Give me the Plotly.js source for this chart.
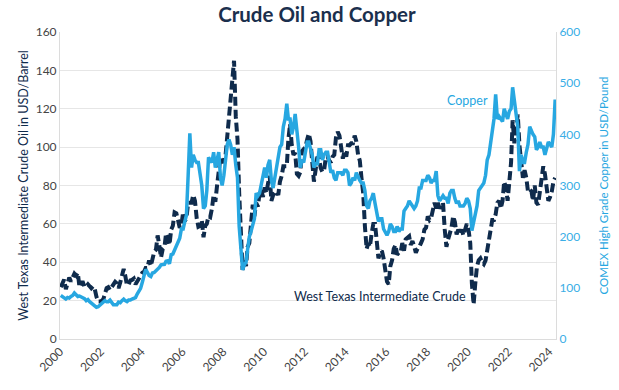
<!DOCTYPE html>
<html>
<head>
<meta charset="utf-8">
<script src="https://cdn.plot.ly/plotly-3.0.1.min.js"></script>
<style>
html,body{margin:0;padding:0;background:#fff;}
#chart{width:619px;height:390px;}
</style>
</head>
<body>
<div id="chart"></div>
<script>
// Monthly series, Jan 2000 .. Apr 2024
const startYear = 2000;
const wtiUSDperBarrel = [
 27,29.5,31,26,29,32,30,31.5,34,33,34.5,27,
 29.5,29.5,27,27.5,28.5,27.5,26.5,27.5,26,22,19.5,19.5,
 19.8,20.7,24.5,26.5,27,25.5,27,28.5,29.8,29,26.5,29.5,
 33,36.5,33,28,28.5,30.5,30.8,31.5,28.5,30,31,32.5,
 34.5,35,37,37,41,38,41,45.5,46.5,54,48.5,42.5,
 47,48,55,52.5,49,57,59,66,65.5,62,58,59.5,
 66,61.5,63,71,71,71,75,72,63,58.5,59,62,
 53,59,60,64,63.5,68,75,71.5,80,87,95,92,
 93,96,106,114,127,136,145,116,104,76,55,36,
 41,38,48,50,60,70,64,71,69,76,78,74,
 79,76,81,85,72,75,76,77,75,82,85,90,
 90,90,104,112,101,96,97,86,85,87,98,99,
 100,104,107,103,94,82,88,95,94,89,87,88,
 95,95,93,92,95,96,105,108,106,100,94,98,
 95,101,101,102,102,106,103,96,93,84,76,59,
 47,50,48,55,60,60,51,42,45,46,42,37,
 30,28.5,38,41,47,49,44,45,45,50,46,52,
 52.5,53.5,49,51,48.5,45,47,48,50,52,57,58,
 64,62,63,67,71,68,71,68,70,71,57,48,
 52,55,58,64,61,54.5,57,55,57,54,57,60,
 57,50,29,18,29,38,41,42,40,39,41,47,
 52,59,62,62,65,71,72,68,72,82,79,72,
 83,92,114,102,110,117,101,93,84,88,84,77,
 78,77,72,80,71,70,76,82,90,86,77,72,
 74,77,82,84
];
const copperCentsPerPound = [
 85,82,81,78,81,80,83,85,90,86,83,84,
 82,81,79,75,77,73,70,67,66,62,63,66,
 69,71,75,73,73,76,72,67,67,67,72,71,
 75,78,75,73,76,76,78,79,81,88,93,99,
 111,127,136,130,124,122,129,130,133,135,140,145,
 145,146,152,153,147,165,166,175,180,189,197,215,
 215,230,242,320,402,335,360,350,345,345,320,300,
 255,260,290,355,350,345,365,335,350,365,315,300,
 320,360,380,390,380,360,375,340,315,220,170,135,
 145,150,175,200,210,225,235,285,280,285,300,320,
 335,315,340,350,310,295,315,330,350,375,380,415,
 430,460,430,430,400,415,440,410,375,335,350,345,
 365,385,385,375,360,335,345,340,370,370,350,360,
 365,365,345,325,330,315,310,325,325,325,320,330,
 330,325,300,305,315,310,325,315,310,305,305,290,
 260,255,270,275,285,265,245,230,235,235,215,210,
 203,210,225,220,210,210,220,210,215,215,250,255,
 260,270,265,260,255,260,270,295,295,310,310,310,
 320,315,305,310,310,328,280,270,275,280,275,275,
 265,285,290,290,275,265,270,260,260,260,265,275,
 270,255,212,230,240,260,290,295,300,305,320,350,
 360,385,410,430,478,430,435,430,425,450,440,430,
 445,450,492,465,430,415,328,360,345,345,365,380,
 415,405,400,395,370,375,385,375,375,360,370,385,
 380,375,400,468
];
const xTickYears = ['2000','2002','2004','2006','2008','2010','2012','2014','2016','2018','2020','2022','2024'];
const leftTicks = [0,20,40,60,80,100,120,140,160];
const rightTicks = [0,100,200,300,400,500,600];

function monthDates(n){
  const out=[];
  for(let i=0;i<n;i++){
    const y=startYear+Math.floor(i/12), m=(i%12)+1;
    out.push(y+'-'+String(m).padStart(2,'0')+'-15');
  }
  return out;
}

const navy='#0f2b4c', blue='#27a7e1';
const FONT='Lato, "Open Sans", sans-serif';

const traces=[
  {x:monthDates(copperCentsPerPound.length), y:copperCentsPerPound, yaxis:'y2', type:'scatter', mode:'lines',
   name:'Copper', line:{color:blue,width:3.5}},
  {x:monthDates(wtiUSDperBarrel.length), y:wtiUSDperBarrel, yaxis:'y', type:'scatter', mode:'lines',
   name:'West Texas Intermediate Crude', line:{color:navy,width:4,dash:'9px,4px'}}
];

const layout={
  width:619,height:390,
  margin:{l:60,r:63,t:32,b:51},
  paper_bgcolor:'#fff',plot_bgcolor:'#fff',
  showlegend:false,
  font:{family:FONT,size:12,color:'#444'},
  title:{text:'<b>Crude Oil and Copper</b>',font:{family:FONT,size:20.5,color:'#1b2f4d'},
         x:0.512,xanchor:'center',y:0.962,yanchor:'middle'},
  xaxis:{type:'date',range:['2000-01-01','2024-04-30'],
         tickvals:xTickYears.map(y=>y+'-01-01'),ticktext:xTickYears,tickangle:-45,
         showgrid:false,showline:true,linecolor:'#dcdcdc',linewidth:1,ticks:'',
         tickfont:{family:FONT,size:12,color:'#444'},zeroline:false},
  yaxis:{range:[0,160],tickvals:leftTicks,showgrid:true,gridcolor:'#e6e6e6',
         showline:true,linecolor:'#dcdcdc',zeroline:false,ticks:'',
         tickfont:{family:FONT,size:12,color:'#444'},
         title:{text:'West Texas Intermediate Crude Oil in USD/Barrel',font:{family:FONT,size:12.5,color:navy},standoff:4}},
  yaxis2:{range:[0,600],tickvals:rightTicks,overlaying:'y',side:'right',showgrid:false,
          showline:true,linecolor:'#dcdcdc',zeroline:false,ticks:'',
          tickfont:{family:FONT,size:12,color:'#3aaee6'},
          title:{text:'COMEX High Grade Copper in USD/Pound',font:{family:FONT,size:11.5,color:blue},standoff:20}},
  annotations:[
    {text:'Copper',x:'2020-01-01',y:124.5,xref:'x',yref:'y',showarrow:false,
     font:{family:FONT,size:12.5,color:blue}},
    {text:'West Texas Intermediate Crude',x:'2015-09-10',y:22,xref:'x',yref:'y',showarrow:false,
     font:{family:FONT,size:12.5,color:navy}}
  ]
};

Plotly.newPlot('chart',traces,layout,{displayModeBar:false,staticPlot:true});
</script>
</body>
</html>
